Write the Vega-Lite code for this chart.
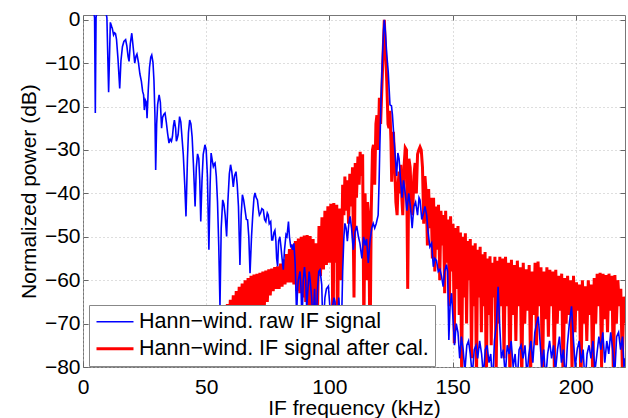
{
"$schema": "https://vega.github.io/schema/vega-lite/v6.json",
"width": 542, "height": 352,
"autosize": {"type": "none"},
"padding": {"left": 83, "top": 15, "right": 3, "bottom": 51},
"background": "white",
"config": {
 "font": "Liberation Sans",
 "view": {"stroke": "#777", "strokeWidth": 1},
 "axis": {"labelFont": "Liberation Sans", "titleFont": "Liberation Sans", "labelFontSize": 21, "titleFontSize": 21, "titleFontWeight": "normal", "labelColor": "#000", "titleColor": "#000", "tickColor": "#666", "domain": false, "labelFlush": false, "gridColor": "#bdbdbd", "gridDash": [1, 3], "gridWidth": 1, "tickSize": -5}
},
"datasets": {
"raw": [
{"kHz":0,"dB":6,"signal":"raw"},{"kHz":1.5,"dB":5,"signal":"raw"},{"kHz":3,"dB":4,"signal":"raw"},{"kHz":4.2,"dB":2.5,"signal":"raw"},{"kHz":4.7,"dB":0.5,"signal":"raw"},{"kHz":5.0,"dB":-21.5,"signal":"raw"},{"kHz":5.3,"dB":0.5,"signal":"raw"},{"kHz":6.0,"dB":3,"signal":"raw"},{"kHz":7.5,"dB":4,"signal":"raw"},{"kHz":9.0,"dB":2.5,"signal":"raw"},{"kHz":9.7,"dB":0.5,"signal":"raw"},{"kHz":10.4,"dB":-16.7,"signal":"raw"},{"kHz":11.1,"dB":-0.6,"signal":"raw"},{"kHz":11.6,"dB":-1.5,"signal":"raw"},{"kHz":11.9,"dB":-2.0,"signal":"raw"},{"kHz":12.4,"dB":-3.5,"signal":"raw"},{"kHz":12.8,"dB":-3.0,"signal":"raw"},{"kHz":13.2,"dB":-3.2,"signal":"raw"},{"kHz":13.6,"dB":-4.5,"signal":"raw"},{"kHz":14.2,"dB":-9,"signal":"raw"},{"kHz":14.9,"dB":-15.8,"signal":"raw"},{"kHz":15.4,"dB":-9.5,"signal":"raw"},{"kHz":16.0,"dB":-6.2,"signal":"raw"},{"kHz":16.6,"dB":-5.0,"signal":"raw"},{"kHz":17.3,"dB":-4.6,"signal":"raw"},{"kHz":17.8,"dB":-6,"signal":"raw"},{"kHz":18.3,"dB":-8.5,"signal":"raw"},{"kHz":18.7,"dB":-9.6,"signal":"raw"},{"kHz":19.2,"dB":-5.5,"signal":"raw"},{"kHz":19.8,"dB":-3.1,"signal":"raw"},{"kHz":20.4,"dB":-6.5,"signal":"raw"},{"kHz":21.0,"dB":-10.0,"signal":"raw"},{"kHz":21.5,"dB":-8.4,"signal":"raw"},{"kHz":21.9,"dB":-7.9,"signal":"raw"},{"kHz":22.5,"dB":-9.8,"signal":"raw"},{"kHz":23.1,"dB":-12.5,"signal":"raw"},{"kHz":23.7,"dB":-14.2,"signal":"raw"},{"kHz":24.2,"dB":-16.5,"signal":"raw"},{"kHz":24.6,"dB":-17.3,"signal":"raw"},{"kHz":24.9,"dB":-20.8,"signal":"raw"},{"kHz":25.3,"dB":-18.5,"signal":"raw"},{"kHz":25.7,"dB":-19,"signal":"raw"},{"kHz":26.0,"dB":-22.7,"signal":"raw"},{"kHz":26.5,"dB":-16,"signal":"raw"},{"kHz":27.0,"dB":-11,"signal":"raw"},{"kHz":27.5,"dB":-8.6,"signal":"raw"},{"kHz":27.9,"dB":-8.1,"signal":"raw"},{"kHz":28.4,"dB":-9.8,"signal":"raw"},{"kHz":28.8,"dB":-14,"signal":"raw"},{"kHz":29.2,"dB":-22,"signal":"raw"},{"kHz":29.5,"dB":-34.6,"signal":"raw"},{"kHz":29.9,"dB":-24,"signal":"raw"},{"kHz":30.3,"dB":-19.5,"signal":"raw"},{"kHz":30.9,"dB":-17.3,"signal":"raw"},{"kHz":31.4,"dB":-19,"signal":"raw"},{"kHz":31.9,"dB":-25,"signal":"raw"},{"kHz":32.3,"dB":-22.5,"signal":"raw"},{"kHz":32.8,"dB":-21.8,"signal":"raw"},{"kHz":33.3,"dB":-21.5,"signal":"raw"},{"kHz":33.8,"dB":-23.5,"signal":"raw"},{"kHz":34.3,"dB":-26,"signal":"raw"},{"kHz":34.9,"dB":-28.4,"signal":"raw"},{"kHz":35.4,"dB":-27.5,"signal":"raw"},{"kHz":35.9,"dB":-28,"signal":"raw"},{"kHz":36.3,"dB":-26.9,"signal":"raw"},{"kHz":36.7,"dB":-24.5,"signal":"raw"},{"kHz":37.1,"dB":-23.1,"signal":"raw"},{"kHz":37.6,"dB":-25,"signal":"raw"},{"kHz":37.9,"dB":-28.0,"signal":"raw"},{"kHz":38.2,"dB":-27.5,"signal":"raw"},{"kHz":38.6,"dB":-26.5,"signal":"raw"},{"kHz":39.2,"dB":-22.3,"signal":"raw"},{"kHz":39.7,"dB":-23.5,"signal":"raw"},{"kHz":40.3,"dB":-28,"signal":"raw"},{"kHz":40.7,"dB":-31,"signal":"raw"},{"kHz":41.3,"dB":-38,"signal":"raw"},{"kHz":41.8,"dB":-45.3,"signal":"raw"},{"kHz":42.4,"dB":-32,"signal":"raw"},{"kHz":42.8,"dB":-26,"signal":"raw"},{"kHz":43.3,"dB":-23.1,"signal":"raw"},{"kHz":43.8,"dB":-24,"signal":"raw"},{"kHz":44.3,"dB":-27,"signal":"raw"},{"kHz":44.8,"dB":-33,"signal":"raw"},{"kHz":45.5,"dB":-43,"signal":"raw"},{"kHz":46.0,"dB":-34,"signal":"raw"},{"kHz":46.5,"dB":-30.9,"signal":"raw"},{"kHz":47.0,"dB":-32,"signal":"raw"},{"kHz":47.4,"dB":-37,"signal":"raw"},{"kHz":47.8,"dB":-46.5,"signal":"raw"},{"kHz":48.3,"dB":-37,"signal":"raw"},{"kHz":48.8,"dB":-31,"signal":"raw"},{"kHz":49.5,"dB":-28.8,"signal":"raw"},{"kHz":50.0,"dB":-30,"signal":"raw"},{"kHz":50.5,"dB":-36,"signal":"raw"},{"kHz":51.1,"dB":-53,"signal":"raw"},{"kHz":51.6,"dB":-38,"signal":"raw"},{"kHz":52.0,"dB":-30.7,"signal":"raw"},{"kHz":52.5,"dB":-32.5,"signal":"raw"},{"kHz":52.9,"dB":-33.8,"signal":"raw"},{"kHz":53.3,"dB":-33.2,"signal":"raw"},{"kHz":53.6,"dB":-33,"signal":"raw"},{"kHz":54.1,"dB":-36,"signal":"raw"},{"kHz":54.6,"dB":-42,"signal":"raw"},{"kHz":55.1,"dB":-52,"signal":"raw"},{"kHz":55.6,"dB":-66,"signal":"raw"},{"kHz":56.1,"dB":-48,"signal":"raw"},{"kHz":56.7,"dB":-41.5,"signal":"raw"},{"kHz":57.2,"dB":-42.5,"signal":"raw"},{"kHz":57.7,"dB":-45,"signal":"raw"},{"kHz":58.3,"dB":-49.9,"signal":"raw"},{"kHz":58.8,"dB":-42,"signal":"raw"},{"kHz":59.4,"dB":-35.5,"signal":"raw"},{"kHz":59.9,"dB":-33.4,"signal":"raw"},{"kHz":60.4,"dB":-35,"signal":"raw"},{"kHz":61.0,"dB":-38.5,"signal":"raw"},{"kHz":61.5,"dB":-36,"signal":"raw"},{"kHz":62.1,"dB":-35,"signal":"raw"},{"kHz":62.6,"dB":-38,"signal":"raw"},{"kHz":63.1,"dB":-43,"signal":"raw"},{"kHz":63.7,"dB":-56.5,"signal":"raw"},{"kHz":64.2,"dB":-45,"signal":"raw"},{"kHz":64.7,"dB":-40.3,"signal":"raw"},{"kHz":65.2,"dB":-41.5,"signal":"raw"},{"kHz":65.7,"dB":-43.5,"signal":"raw"},{"kHz":66.3,"dB":-46,"signal":"raw"},{"kHz":66.8,"dB":-46.1,"signal":"raw"},{"kHz":67.3,"dB":-50,"signal":"raw"},{"kHz":67.8,"dB":-58.4,"signal":"raw"},{"kHz":68.4,"dB":-50,"signal":"raw"},{"kHz":68.9,"dB":-45,"signal":"raw"},{"kHz":69.4,"dB":-41,"signal":"raw"},{"kHz":69.8,"dB":-39.9,"signal":"raw"},{"kHz":70.3,"dB":-41,"signal":"raw"},{"kHz":70.8,"dB":-41.5,"signal":"raw"},{"kHz":71.3,"dB":-44,"signal":"raw"},{"kHz":71.6,"dB":-45,"signal":"raw"},{"kHz":72.1,"dB":-44.5,"signal":"raw"},{"kHz":72.6,"dB":-43.5,"signal":"raw"},{"kHz":73.2,"dB":-43.8,"signal":"raw"},{"kHz":73.7,"dB":-46,"signal":"raw"},{"kHz":74.2,"dB":-46.5,"signal":"raw"},{"kHz":74.8,"dB":-44.5,"signal":"raw"},{"kHz":75.2,"dB":-45,"signal":"raw"},{"kHz":75.6,"dB":-47,"signal":"raw"},{"kHz":76.2,"dB":-46.5,"signal":"raw"},{"kHz":76.6,"dB":-50.7,"signal":"raw"},{"kHz":77.0,"dB":-50.7,"signal":"raw"},{"kHz":77.5,"dB":-49,"signal":"raw"},{"kHz":77.9,"dB":-48.5,"signal":"raw"},{"kHz":78.3,"dB":-51,"signal":"raw"},{"kHz":78.6,"dB":-55,"signal":"raw"},{"kHz":79.0,"dB":-56.8,"signal":"raw"},{"kHz":79.4,"dB":-51,"signal":"raw"},{"kHz":79.9,"dB":-50,"signal":"raw"},{"kHz":80.3,"dB":-52,"signal":"raw"},{"kHz":80.8,"dB":-55,"signal":"raw"},{"kHz":81.3,"dB":-57.6,"signal":"raw"},{"kHz":81.8,"dB":-53,"signal":"raw"},{"kHz":82.4,"dB":-49.5,"signal":"raw"},{"kHz":82.8,"dB":-49.9,"signal":"raw"},{"kHz":83.4,"dB":-46.5,"signal":"raw"},{"kHz":83.8,"dB":-50,"signal":"raw"},{"kHz":84.3,"dB":-52.2,"signal":"raw"},{"kHz":84.7,"dB":-52,"signal":"raw"},{"kHz":85.1,"dB":-53,"signal":"raw"},{"kHz":85.6,"dB":-51.5,"signal":"raw"},{"kHz":86.1,"dB":-56,"signal":"raw"},{"kHz":86.7,"dB":-68,"signal":"raw"},{"kHz":87.1,"dB":-62,"signal":"raw"},{"kHz":87.4,"dB":-60,"signal":"raw"},{"kHz":88.1,"dB":-58,"signal":"raw"},{"kHz":88.5,"dB":-62,"signal":"raw"},{"kHz":88.9,"dB":-70,"signal":"raw"},{"kHz":89.4,"dB":-60,"signal":"raw"},{"kHz":89.9,"dB":-57,"signal":"raw"},{"kHz":90.4,"dB":-60,"signal":"raw"},{"kHz":90.8,"dB":-66.6,"signal":"raw"},{"kHz":91.3,"dB":-62,"signal":"raw"},{"kHz":91.8,"dB":-58,"signal":"raw"},{"kHz":92.2,"dB":-60,"signal":"raw"},{"kHz":92.8,"dB":-64,"signal":"raw"},{"kHz":93.4,"dB":-70,"signal":"raw"},{"kHz":94.0,"dB":-62,"signal":"raw"},{"kHz":94.6,"dB":-72,"signal":"raw"},{"kHz":95.2,"dB":-62,"signal":"raw"},{"kHz":95.7,"dB":-58,"signal":"raw"},{"kHz":96.2,"dB":-57.6,"signal":"raw"},{"kHz":96.9,"dB":-61,"signal":"raw"},{"kHz":97.4,"dB":-72,"signal":"raw"},{"kHz":98.2,"dB":-64,"signal":"raw"},{"kHz":98.8,"dB":-62,"signal":"raw"},{"kHz":99.6,"dB":-61.4,"signal":"raw"},{"kHz":100.2,"dB":-66,"signal":"raw"},{"kHz":100.8,"dB":-82,"signal":"raw"},{"kHz":101.3,"dB":-66,"signal":"raw"},{"kHz":101.9,"dB":-64,"signal":"raw"},{"kHz":102.3,"dB":-65,"signal":"raw"},{"kHz":102.8,"dB":-70,"signal":"raw"},{"kHz":103.3,"dB":-75,"signal":"raw"},{"kHz":103.8,"dB":-64,"signal":"raw"},{"kHz":104.3,"dB":-68,"signal":"raw"},{"kHz":104.8,"dB":-74,"signal":"raw"},{"kHz":105.4,"dB":-58,"signal":"raw"},{"kHz":105.9,"dB":-50,"signal":"raw"},{"kHz":106.3,"dB":-46.9,"signal":"raw"},{"kHz":106.8,"dB":-48,"signal":"raw"},{"kHz":107.3,"dB":-51,"signal":"raw"},{"kHz":107.9,"dB":-47,"signal":"raw"},{"kHz":108.4,"dB":-45.3,"signal":"raw"},{"kHz":109.0,"dB":-48,"signal":"raw"},{"kHz":109.7,"dB":-53,"signal":"raw"},{"kHz":110.4,"dB":-49,"signal":"raw"},{"kHz":111.1,"dB":-47.5,"signal":"raw"},{"kHz":111.8,"dB":-50,"signal":"raw"},{"kHz":112.4,"dB":-51.5,"signal":"raw"},{"kHz":113.2,"dB":-55,"signal":"raw"},{"kHz":113.9,"dB":-50,"signal":"raw"},{"kHz":114.6,"dB":-52,"signal":"raw"},{"kHz":115.1,"dB":-50.5,"signal":"raw"},{"kHz":115.8,"dB":-56,"signal":"raw"},{"kHz":116.5,"dB":-51,"signal":"raw"},{"kHz":117.2,"dB":-48,"signal":"raw"},{"kHz":117.8,"dB":-46.9,"signal":"raw"},{"kHz":118.4,"dB":-48,"signal":"raw"},{"kHz":119.0,"dB":-47,"signal":"raw"},{"kHz":119.8,"dB":-45,"signal":"raw"},{"kHz":120.2,"dB":-37,"signal":"raw"},{"kHz":120.5,"dB":-28.8,"signal":"raw"},{"kHz":121.0,"dB":-18,"signal":"raw"},{"kHz":121.6,"dB":-8,"signal":"raw"},{"kHz":122.0,"dB":-2.5,"signal":"raw"},{"kHz":122.3,"dB":0,"signal":"raw"},{"kHz":122.7,"dB":-2.5,"signal":"raw"},{"kHz":123.3,"dB":-8,"signal":"raw"},{"kHz":123.9,"dB":-12,"signal":"raw"},{"kHz":124.6,"dB":-19.6,"signal":"raw"},{"kHz":125.2,"dB":-19.8,"signal":"raw"},{"kHz":125.6,"dB":-21.9,"signal":"raw"},{"kHz":126.2,"dB":-27,"signal":"raw"},{"kHz":126.7,"dB":-31.1,"signal":"raw"},{"kHz":127.3,"dB":-36,"signal":"raw"},{"kHz":127.8,"dB":-30.7,"signal":"raw"},{"kHz":128.3,"dB":-32,"signal":"raw"},{"kHz":128.9,"dB":-37,"signal":"raw"},{"kHz":129.5,"dB":-41,"signal":"raw"},{"kHz":130.1,"dB":-37,"signal":"raw"},{"kHz":130.8,"dB":-40,"signal":"raw"},{"kHz":131.5,"dB":-44,"signal":"raw"},{"kHz":132.2,"dB":-40,"signal":"raw"},{"kHz":132.9,"dB":-43,"signal":"raw"},{"kHz":133.6,"dB":-48,"signal":"raw"},{"kHz":134.3,"dB":-43,"signal":"raw"},{"kHz":135.0,"dB":-42,"signal":"raw"},{"kHz":135.8,"dB":-45,"signal":"raw"},{"kHz":136.4,"dB":-41,"signal":"raw"},{"kHz":136.8,"dB":-41.5,"signal":"raw"},{"kHz":137.5,"dB":-46,"signal":"raw"},{"kHz":138.2,"dB":-44.6,"signal":"raw"},{"kHz":138.8,"dB":-43,"signal":"raw"},{"kHz":139.5,"dB":-45,"signal":"raw"},{"kHz":140.1,"dB":-49,"signal":"raw"},{"kHz":140.8,"dB":-52.3,"signal":"raw"},{"kHz":141.5,"dB":-51.5,"signal":"raw"},{"kHz":142.2,"dB":-56.9,"signal":"raw"},{"kHz":142.8,"dB":-55,"signal":"raw"},{"kHz":143.5,"dB":-55.5,"signal":"raw"},{"kHz":144.2,"dB":-58,"signal":"raw"},{"kHz":144.9,"dB":-57.5,"signal":"raw"},{"kHz":145.5,"dB":-59,"signal":"raw"},{"kHz":146.2,"dB":-61.5,"signal":"raw"},{"kHz":146.8,"dB":-58,"signal":"raw"},{"kHz":147.5,"dB":-56.4,"signal":"raw"},{"kHz":148.0,"dB":-58,"signal":"raw"},{"kHz":148.5,"dB":-73.8,"signal":"raw"},{"kHz":149.0,"dB":-66,"signal":"raw"},{"kHz":149.6,"dB":-63,"signal":"raw"},{"kHz":150.2,"dB":-69,"signal":"raw"},{"kHz":150.8,"dB":-75,"signal":"raw"},{"kHz":151.5,"dB":-70,"signal":"raw"},{"kHz":152.2,"dB":-72,"signal":"raw"},{"kHz":152.9,"dB":-78,"signal":"raw"},{"kHz":153.6,"dB":-73,"signal":"raw"},{"kHz":154.3,"dB":-76,"signal":"raw"},{"kHz":155.0,"dB":-81,"signal":"raw"},{"kHz":155.8,"dB":-75,"signal":"raw"},{"kHz":156.5,"dB":-74,"signal":"raw"},{"kHz":157.2,"dB":-77,"signal":"raw"},{"kHz":158.0,"dB":-82,"signal":"raw"},{"kHz":158.8,"dB":-76,"signal":"raw"},{"kHz":159.5,"dB":-75,"signal":"raw"},{"kHz":160.2,"dB":-78,"signal":"raw"},{"kHz":161.0,"dB":-74,"signal":"raw"},{"kHz":161.8,"dB":-77,"signal":"raw"},{"kHz":162.5,"dB":-82,"signal":"raw"},{"kHz":163.3,"dB":-76,"signal":"raw"},{"kHz":164.0,"dB":-75,"signal":"raw"},{"kHz":164.8,"dB":-79,"signal":"raw"},{"kHz":165.5,"dB":-77,"signal":"raw"},{"kHz":166.3,"dB":-84,"signal":"raw"},{"kHz":167.0,"dB":-74,"signal":"raw"},{"kHz":167.8,"dB":-70,"signal":"raw"},{"kHz":168.5,"dB":-61.5,"signal":"raw"},{"kHz":169.1,"dB":-70,"signal":"raw"},{"kHz":169.8,"dB":-78,"signal":"raw"},{"kHz":170.6,"dB":-76,"signal":"raw"},{"kHz":171.4,"dB":-82,"signal":"raw"},{"kHz":172.2,"dB":-75,"signal":"raw"},{"kHz":173.0,"dB":-77,"signal":"raw"},{"kHz":173.8,"dB":-74,"signal":"raw"},{"kHz":174.6,"dB":-80,"signal":"raw"},{"kHz":175.4,"dB":-77,"signal":"raw"},{"kHz":176.2,"dB":-84,"signal":"raw"},{"kHz":177.0,"dB":-76,"signal":"raw"},{"kHz":177.8,"dB":-75,"signal":"raw"},{"kHz":178.6,"dB":-78,"signal":"raw"},{"kHz":179.4,"dB":-75,"signal":"raw"},{"kHz":180.2,"dB":-82,"signal":"raw"},{"kHz":181.0,"dB":-77,"signal":"raw"},{"kHz":181.8,"dB":-74,"signal":"raw"},{"kHz":182.6,"dB":-79,"signal":"raw"},{"kHz":183.4,"dB":-72,"signal":"raw"},{"kHz":184.1,"dB":-70,"signal":"raw"},{"kHz":184.8,"dB":-68.4,"signal":"raw"},{"kHz":185.5,"dB":-74,"signal":"raw"},{"kHz":186.2,"dB":-80,"signal":"raw"},{"kHz":187.0,"dB":-76,"signal":"raw"},{"kHz":187.8,"dB":-83,"signal":"raw"},{"kHz":188.6,"dB":-77,"signal":"raw"},{"kHz":189.4,"dB":-74,"signal":"raw"},{"kHz":190.2,"dB":-78,"signal":"raw"},{"kHz":191.0,"dB":-75,"signal":"raw"},{"kHz":191.8,"dB":-81,"signal":"raw"},{"kHz":192.6,"dB":-76,"signal":"raw"},{"kHz":193.4,"dB":-73,"signal":"raw"},{"kHz":194.2,"dB":-79,"signal":"raw"},{"kHz":195.0,"dB":-76,"signal":"raw"},{"kHz":195.8,"dB":-83,"signal":"raw"},{"kHz":196.6,"dB":-75,"signal":"raw"},{"kHz":197.4,"dB":-70,"signal":"raw"},{"kHz":198.3,"dB":-66,"signal":"raw"},{"kHz":199.0,"dB":-73,"signal":"raw"},{"kHz":199.8,"dB":-80,"signal":"raw"},{"kHz":200.6,"dB":-76,"signal":"raw"},{"kHz":201.4,"dB":-74,"signal":"raw"},{"kHz":202.2,"dB":-79,"signal":"raw"},{"kHz":203.0,"dB":-76,"signal":"raw"},{"kHz":203.8,"dB":-84,"signal":"raw"},{"kHz":204.6,"dB":-77,"signal":"raw"},{"kHz":205.4,"dB":-75,"signal":"raw"},{"kHz":206.2,"dB":-78,"signal":"raw"},{"kHz":207.0,"dB":-74,"signal":"raw"},{"kHz":207.8,"dB":-81,"signal":"raw"},{"kHz":208.6,"dB":-77,"signal":"raw"},{"kHz":209.4,"dB":-73,"signal":"raw"},{"kHz":210.2,"dB":-76,"signal":"raw"},{"kHz":211.0,"dB":-72,"signal":"raw"},{"kHz":211.8,"dB":-79,"signal":"raw"},{"kHz":212.6,"dB":-74,"signal":"raw"},{"kHz":213.4,"dB":-77,"signal":"raw"},{"kHz":214.2,"dB":-72,"signal":"raw"},{"kHz":215.0,"dB":-76,"signal":"raw"},{"kHz":215.8,"dB":-82,"signal":"raw"},{"kHz":216.6,"dB":-73,"signal":"raw"},{"kHz":217.4,"dB":-72,"signal":"raw"},{"kHz":218.2,"dB":-76,"signal":"raw"},{"kHz":219.0,"dB":-73,"signal":"raw"},{"kHz":219.6,"dB":-80,"signal":"raw"},{"kHz":220.0,"dB":-78,"signal":"raw"}
],
"cal": [
{"kHz":22.0,"dB":-86,"signal":"cal"},{"kHz":23.0,"dB":-82,"signal":"cal"},{"kHz":23.8,"dB":-79.5,"signal":"cal"},{"kHz":24.4,"dB":-84,"signal":"cal"},{"kHz":25.0,"dB":-79,"signal":"cal"},{"kHz":25.6,"dB":-83,"signal":"cal"},{"kHz":26.2,"dB":-78.5,"signal":"cal"},{"kHz":26.8,"dB":-83,"signal":"cal"},{"kHz":27.4,"dB":-78,"signal":"cal"},{"kHz":28.0,"dB":-82,"signal":"cal"},{"kHz":28.6,"dB":-77.8,"signal":"cal"},{"kHz":29.2,"dB":-82,"signal":"cal"},{"kHz":29.8,"dB":-77.5,"signal":"cal"},{"kHz":30.4,"dB":-81.5,"signal":"cal"},{"kHz":31.0,"dB":-77.8,"signal":"cal"},{"kHz":31.6,"dB":-82,"signal":"cal"},{"kHz":32.2,"dB":-78.5,"signal":"cal"},{"kHz":32.8,"dB":-83,"signal":"cal"},{"kHz":33.4,"dB":-79,"signal":"cal"},{"kHz":34.0,"dB":-82,"signal":"cal"},{"kHz":34.6,"dB":-77,"signal":"cal"},{"kHz":35.2,"dB":-81,"signal":"cal"},{"kHz":35.8,"dB":-76,"signal":"cal"},{"kHz":36.4,"dB":-80.5,"signal":"cal"},{"kHz":37.0,"dB":-75.5,"signal":"cal"},{"kHz":37.6,"dB":-80,"signal":"cal"},{"kHz":38.2,"dB":-75,"signal":"cal"},{"kHz":38.8,"dB":-80,"signal":"cal"},{"kHz":39.4,"dB":-74.5,"signal":"cal"},{"kHz":40.0,"dB":-79.5,"signal":"cal"},{"kHz":40.6,"dB":-74,"signal":"cal"},{"kHz":41.2,"dB":-79.5,"signal":"cal"},{"kHz":41.8,"dB":-73.5,"signal":"cal"},{"kHz":42.4,"dB":-79,"signal":"cal"},{"kHz":43.0,"dB":-73,"signal":"cal"},{"kHz":43.6,"dB":-79.5,"signal":"cal"},{"kHz":44.2,"dB":-72.5,"signal":"cal"},{"kHz":44.8,"dB":-80,"signal":"cal"},{"kHz":45.4,"dB":-72,"signal":"cal"},{"kHz":46.0,"dB":-78,"signal":"cal"},{"kHz":46.6,"dB":-71.5,"signal":"cal"},{"kHz":47.2,"dB":-77.5,"signal":"cal"},{"kHz":47.8,"dB":-71,"signal":"cal"},{"kHz":48.4,"dB":-77,"signal":"cal"},{"kHz":49.0,"dB":-70.5,"signal":"cal"},{"kHz":49.6,"dB":-76.5,"signal":"cal"},{"kHz":50.2,"dB":-70,"signal":"cal"},{"kHz":50.8,"dB":-76,"signal":"cal"},{"kHz":51.4,"dB":-69.5,"signal":"cal"},{"kHz":52.0,"dB":-75.5,"signal":"cal"},{"kHz":52.6,"dB":-69,"signal":"cal"},{"kHz":53.2,"dB":-75,"signal":"cal"},{"kHz":53.8,"dB":-68.3,"signal":"cal"},{"kHz":54.4,"dB":-74.5,"signal":"cal"},{"kHz":55.0,"dB":-67.5,"signal":"cal"},{"kHz":55.6,"dB":-74,"signal":"cal"},{"kHz":56.2,"dB":-67,"signal":"cal"},{"kHz":56.8,"dB":-73.5,"signal":"cal"},{"kHz":57.4,"dB":-66.3,"signal":"cal"},{"kHz":58.0,"dB":-73,"signal":"cal"},{"kHz":58.6,"dB":-65.5,"signal":"cal"},{"kHz":59.2,"dB":-72.5,"signal":"cal"},{"kHz":59.8,"dB":-64.5,"signal":"cal"},{"kHz":60.4,"dB":-72,"signal":"cal"},{"kHz":61.0,"dB":-63.5,"signal":"cal"},{"kHz":61.6,"dB":-71.5,"signal":"cal"},{"kHz":62.2,"dB":-62.5,"signal":"cal"},{"kHz":62.8,"dB":-71,"signal":"cal"},{"kHz":63.4,"dB":-61.5,"signal":"cal"},{"kHz":64.0,"dB":-70.5,"signal":"cal"},{"kHz":64.6,"dB":-60.8,"signal":"cal"},{"kHz":65.2,"dB":-70,"signal":"cal"},{"kHz":65.8,"dB":-60,"signal":"cal"},{"kHz":66.4,"dB":-69.5,"signal":"cal"},{"kHz":67.0,"dB":-59.5,"signal":"cal"},{"kHz":67.6,"dB":-69,"signal":"cal"},{"kHz":68.2,"dB":-59,"signal":"cal"},{"kHz":68.8,"dB":-68.7,"signal":"cal"},{"kHz":69.4,"dB":-58.7,"signal":"cal"},{"kHz":70.0,"dB":-68.5,"signal":"cal"},{"kHz":70.6,"dB":-58.5,"signal":"cal"},{"kHz":71.2,"dB":-68,"signal":"cal"},{"kHz":71.8,"dB":-58.3,"signal":"cal"},{"kHz":72.4,"dB":-67,"signal":"cal"},{"kHz":73.0,"dB":-58,"signal":"cal"},{"kHz":73.6,"dB":-66,"signal":"cal"},{"kHz":74.2,"dB":-57.8,"signal":"cal"},{"kHz":74.8,"dB":-65,"signal":"cal"},{"kHz":75.4,"dB":-57.5,"signal":"cal"},{"kHz":76.0,"dB":-63.5,"signal":"cal"},{"kHz":76.6,"dB":-57.3,"signal":"cal"},{"kHz":77.2,"dB":-62.5,"signal":"cal"},{"kHz":77.8,"dB":-57,"signal":"cal"},{"kHz":78.4,"dB":-62,"signal":"cal"},{"kHz":79.0,"dB":-56.8,"signal":"cal"},{"kHz":79.6,"dB":-62,"signal":"cal"},{"kHz":80.2,"dB":-56.2,"signal":"cal"},{"kHz":80.8,"dB":-61.5,"signal":"cal"},{"kHz":81.4,"dB":-55.2,"signal":"cal"},{"kHz":82.0,"dB":-61,"signal":"cal"},{"kHz":82.6,"dB":-54,"signal":"cal"},{"kHz":83.2,"dB":-60.5,"signal":"cal"},{"kHz":83.8,"dB":-52.8,"signal":"cal"},{"kHz":84.4,"dB":-60.5,"signal":"cal"},{"kHz":85.0,"dB":-51.8,"signal":"cal"},{"kHz":85.6,"dB":-61,"signal":"cal"},{"kHz":86.2,"dB":-51,"signal":"cal"},{"kHz":86.8,"dB":-62.5,"signal":"cal"},{"kHz":87.4,"dB":-50.4,"signal":"cal"},{"kHz":88.0,"dB":-63,"signal":"cal"},{"kHz":88.6,"dB":-50,"signal":"cal"},{"kHz":89.2,"dB":-64,"signal":"cal"},{"kHz":89.8,"dB":-49.7,"signal":"cal"},{"kHz":90.4,"dB":-65,"signal":"cal"},{"kHz":91.0,"dB":-49.6,"signal":"cal"},{"kHz":91.6,"dB":-66,"signal":"cal"},{"kHz":92.2,"dB":-49.8,"signal":"cal"},{"kHz":92.8,"dB":-66,"signal":"cal"},{"kHz":93.1,"dB":-84,"signal":"cal"},{"kHz":93.4,"dB":-50.5,"signal":"cal"},{"kHz":94.0,"dB":-66,"signal":"cal"},{"kHz":94.6,"dB":-51.5,"signal":"cal"},{"kHz":95.2,"dB":-67,"signal":"cal"},{"kHz":95.8,"dB":-47.5,"signal":"cal"},{"kHz":96.4,"dB":-59,"signal":"cal"},{"kHz":97.0,"dB":-45.5,"signal":"cal"},{"kHz":97.6,"dB":-57.5,"signal":"cal"},{"kHz":98.2,"dB":-44,"signal":"cal"},{"kHz":98.8,"dB":-56.5,"signal":"cal"},{"kHz":99.4,"dB":-43,"signal":"cal"},{"kHz":100.0,"dB":-56,"signal":"cal"},{"kHz":100.6,"dB":-42.4,"signal":"cal"},{"kHz":101.2,"dB":-55.5,"signal":"cal"},{"kHz":101.5,"dB":-84,"signal":"cal"},{"kHz":101.8,"dB":-42.2,"signal":"cal"},{"kHz":102.4,"dB":-56,"signal":"cal"},{"kHz":103.0,"dB":-42.6,"signal":"cal"},{"kHz":103.3,"dB":-78,"signal":"cal"},{"kHz":103.6,"dB":-57,"signal":"cal"},{"kHz":104.2,"dB":-43.5,"signal":"cal"},{"kHz":104.8,"dB":-60,"signal":"cal"},{"kHz":105.4,"dB":-38,"signal":"cal"},{"kHz":105.9,"dB":-45,"signal":"cal"},{"kHz":106.3,"dB":-36.1,"signal":"cal"},{"kHz":106.8,"dB":-44,"signal":"cal"},{"kHz":107.3,"dB":-37,"signal":"cal"},{"kHz":107.8,"dB":-47,"signal":"cal"},{"kHz":108.3,"dB":-35.5,"signal":"cal"},{"kHz":108.9,"dB":-43,"signal":"cal"},{"kHz":109.4,"dB":-34,"signal":"cal"},{"kHz":110.0,"dB":-64,"signal":"cal"},{"kHz":110.5,"dB":-33,"signal":"cal"},{"kHz":111.0,"dB":-41,"signal":"cal"},{"kHz":111.6,"dB":-31.5,"signal":"cal"},{"kHz":112.1,"dB":-38,"signal":"cal"},{"kHz":112.5,"dB":-30.4,"signal":"cal"},{"kHz":113.0,"dB":-36,"signal":"cal"},{"kHz":113.5,"dB":-31,"signal":"cal"},{"kHz":114.0,"dB":-72,"signal":"cal"},{"kHz":114.5,"dB":-40,"signal":"cal"},{"kHz":115.0,"dB":-60,"signal":"cal"},{"kHz":115.5,"dB":-42,"signal":"cal"},{"kHz":116.0,"dB":-46,"signal":"cal"},{"kHz":116.5,"dB":-78,"signal":"cal"},{"kHz":117.0,"dB":-44,"signal":"cal"},{"kHz":117.5,"dB":-30,"signal":"cal"},{"kHz":117.9,"dB":-28.8,"signal":"cal"},{"kHz":118.4,"dB":-38,"signal":"cal"},{"kHz":118.9,"dB":-24,"signal":"cal"},{"kHz":119.3,"dB":-22,"signal":"cal"},{"kHz":119.8,"dB":-30,"signal":"cal"},{"kHz":120.3,"dB":-18,"signal":"cal"},{"kHz":120.8,"dB":-24,"signal":"cal"},{"kHz":121.3,"dB":-16,"signal":"cal"},{"kHz":121.8,"dB":-8,"signal":"cal"},{"kHz":122.3,"dB":0,"signal":"cal"},{"kHz":122.8,"dB":-7,"signal":"cal"},{"kHz":123.3,"dB":-14.2,"signal":"cal"},{"kHz":123.8,"dB":-24,"signal":"cal"},{"kHz":124.2,"dB":-25,"signal":"cal"},{"kHz":124.6,"dB":-21,"signal":"cal"},{"kHz":125.0,"dB":-28,"signal":"cal"},{"kHz":125.3,"dB":-37.3,"signal":"cal"},{"kHz":125.7,"dB":-30,"signal":"cal"},{"kHz":126.0,"dB":-25.8,"signal":"cal"},{"kHz":126.5,"dB":-33,"signal":"cal"},{"kHz":127.0,"dB":-42,"signal":"cal"},{"kHz":127.5,"dB":-45,"signal":"cal"},{"kHz":127.9,"dB":-38,"signal":"cal"},{"kHz":128.3,"dB":-35,"signal":"cal"},{"kHz":128.7,"dB":-40,"signal":"cal"},{"kHz":129.0,"dB":-33.4,"signal":"cal"},{"kHz":129.4,"dB":-41,"signal":"cal"},{"kHz":129.8,"dB":-45,"signal":"cal"},{"kHz":130.3,"dB":-34,"signal":"cal"},{"kHz":130.8,"dB":-29.5,"signal":"cal"},{"kHz":131.3,"dB":-30,"signal":"cal"},{"kHz":131.8,"dB":-62,"signal":"cal"},{"kHz":132.3,"dB":-32,"signal":"cal"},{"kHz":132.8,"dB":-34,"signal":"cal"},{"kHz":133.3,"dB":-42,"signal":"cal"},{"kHz":133.8,"dB":-45,"signal":"cal"},{"kHz":134.3,"dB":-36,"signal":"cal"},{"kHz":134.8,"dB":-33,"signal":"cal"},{"kHz":135.3,"dB":-40,"signal":"cal"},{"kHz":135.8,"dB":-31,"signal":"cal"},{"kHz":136.3,"dB":-30,"signal":"cal"},{"kHz":136.8,"dB":-29.3,"signal":"cal"},{"kHz":137.3,"dB":-30,"signal":"cal"},{"kHz":137.8,"dB":-34,"signal":"cal"},{"kHz":138.3,"dB":-47,"signal":"cal"},{"kHz":138.8,"dB":-36,"signal":"cal"},{"kHz":139.3,"dB":-40,"signal":"cal"},{"kHz":139.8,"dB":-52,"signal":"cal"},{"kHz":140.3,"dB":-39,"signal":"cal"},{"kHz":140.8,"dB":-48,"signal":"cal"},{"kHz":141.3,"dB":-41,"signal":"cal"},{"kHz":141.8,"dB":-55,"signal":"cal"},{"kHz":142.3,"dB":-41,"signal":"cal"},{"kHz":142.8,"dB":-58,"signal":"cal"},{"kHz":143.3,"dB":-43,"signal":"cal"},{"kHz":143.8,"dB":-53,"signal":"cal"},{"kHz":144.3,"dB":-42.6,"signal":"cal"},{"kHz":144.8,"dB":-60,"signal":"cal"},{"kHz":145.3,"dB":-44,"signal":"cal"},{"kHz":145.8,"dB":-52,"signal":"cal"},{"kHz":146.3,"dB":-45,"signal":"cal"},{"kHz":146.8,"dB":-63,"signal":"cal"},{"kHz":147.2,"dB":-44,"signal":"cal"},{"kHz":147.7,"dB":-56,"signal":"cal"},{"kHz":148.2,"dB":-46,"signal":"cal"},{"kHz":148.7,"dB":-66,"signal":"cal"},{"kHz":149.2,"dB":-45.3,"signal":"cal"},{"kHz":149.7,"dB":-58,"signal":"cal"},{"kHz":150.2,"dB":-47,"signal":"cal"},{"kHz":150.7,"dB":-74.5,"signal":"cal"},{"kHz":151.2,"dB":-48,"signal":"cal"},{"kHz":151.7,"dB":-62,"signal":"cal"},{"kHz":152.2,"dB":-47.5,"signal":"cal"},{"kHz":152.7,"dB":-68,"signal":"cal"},{"kHz":153.2,"dB":-49,"signal":"cal"},{"kHz":153.7,"dB":-82,"signal":"cal"},{"kHz":154.2,"dB":-50,"signal":"cal"},{"kHz":154.7,"dB":-64,"signal":"cal"},{"kHz":155.2,"dB":-49.2,"signal":"cal"},{"kHz":155.7,"dB":-70,"signal":"cal"},{"kHz":156.2,"dB":-51,"signal":"cal"},{"kHz":156.7,"dB":-60,"signal":"cal"},{"kHz":157.2,"dB":-50.5,"signal":"cal"},{"kHz":157.7,"dB":-78,"signal":"cal"},{"kHz":158.2,"dB":-52,"signal":"cal"},{"kHz":158.7,"dB":-66,"signal":"cal"},{"kHz":159.2,"dB":-51.5,"signal":"cal"},{"kHz":159.7,"dB":-84,"signal":"cal"},{"kHz":160.2,"dB":-53,"signal":"cal"},{"kHz":160.7,"dB":-64,"signal":"cal"},{"kHz":161.2,"dB":-52.3,"signal":"cal"},{"kHz":161.7,"dB":-72,"signal":"cal"},{"kHz":162.2,"dB":-54,"signal":"cal"},{"kHz":162.7,"dB":-66,"signal":"cal"},{"kHz":163.2,"dB":-53.5,"signal":"cal"},{"kHz":163.7,"dB":-86,"signal":"cal"},{"kHz":164.2,"dB":-55,"signal":"cal"},{"kHz":164.7,"dB":-68,"signal":"cal"},{"kHz":165.2,"dB":-54.5,"signal":"cal"},{"kHz":165.7,"dB":-75,"signal":"cal"},{"kHz":166.2,"dB":-56,"signal":"cal"},{"kHz":166.7,"dB":-64,"signal":"cal"},{"kHz":167.2,"dB":-54.6,"signal":"cal"},{"kHz":167.7,"dB":-82,"signal":"cal"},{"kHz":168.2,"dB":-55.5,"signal":"cal"},{"kHz":168.7,"dB":-70,"signal":"cal"},{"kHz":169.2,"dB":-54.6,"signal":"cal"},{"kHz":169.7,"dB":-66,"signal":"cal"},{"kHz":170.3,"dB":-55,"signal":"cal"},{"kHz":170.9,"dB":-78,"signal":"cal"},{"kHz":171.5,"dB":-54.6,"signal":"cal"},{"kHz":172.1,"dB":-66,"signal":"cal"},{"kHz":172.7,"dB":-56,"signal":"cal"},{"kHz":173.3,"dB":-85,"signal":"cal"},{"kHz":173.9,"dB":-55.3,"signal":"cal"},{"kHz":174.5,"dB":-68,"signal":"cal"},{"kHz":175.1,"dB":-56.5,"signal":"cal"},{"kHz":175.7,"dB":-74,"signal":"cal"},{"kHz":176.3,"dB":-55.5,"signal":"cal"},{"kHz":176.9,"dB":-66,"signal":"cal"},{"kHz":177.5,"dB":-57,"signal":"cal"},{"kHz":178.1,"dB":-84,"signal":"cal"},{"kHz":178.7,"dB":-56,"signal":"cal"},{"kHz":179.3,"dB":-70,"signal":"cal"},{"kHz":179.9,"dB":-57.5,"signal":"cal"},{"kHz":180.5,"dB":-67,"signal":"cal"},{"kHz":181.1,"dB":-56.5,"signal":"cal"},{"kHz":181.7,"dB":-82,"signal":"cal"},{"kHz":182.3,"dB":-58,"signal":"cal"},{"kHz":182.9,"dB":-68,"signal":"cal"},{"kHz":183.5,"dB":-56,"signal":"cal"},{"kHz":184.1,"dB":-75,"signal":"cal"},{"kHz":184.7,"dB":-55.7,"signal":"cal"},{"kHz":185.3,"dB":-66,"signal":"cal"},{"kHz":185.9,"dB":-57,"signal":"cal"},{"kHz":186.5,"dB":-86,"signal":"cal"},{"kHz":187.1,"dB":-58,"signal":"cal"},{"kHz":187.7,"dB":-69,"signal":"cal"},{"kHz":188.3,"dB":-57,"signal":"cal"},{"kHz":188.9,"dB":-73,"signal":"cal"},{"kHz":189.5,"dB":-57.6,"signal":"cal"},{"kHz":190.1,"dB":-66,"signal":"cal"},{"kHz":190.7,"dB":-58,"signal":"cal"},{"kHz":191.3,"dB":-80,"signal":"cal"},{"kHz":191.9,"dB":-57.6,"signal":"cal"},{"kHz":192.5,"dB":-70,"signal":"cal"},{"kHz":193.1,"dB":-59,"signal":"cal"},{"kHz":193.7,"dB":-67,"signal":"cal"},{"kHz":194.3,"dB":-58.5,"signal":"cal"},{"kHz":194.9,"dB":-85,"signal":"cal"},{"kHz":195.5,"dB":-59.5,"signal":"cal"},{"kHz":196.1,"dB":-70,"signal":"cal"},{"kHz":196.7,"dB":-59,"signal":"cal"},{"kHz":197.3,"dB":-68,"signal":"cal"},{"kHz":197.9,"dB":-60,"signal":"cal"},{"kHz":198.5,"dB":-81,"signal":"cal"},{"kHz":199.1,"dB":-59,"signal":"cal"},{"kHz":199.7,"dB":-72,"signal":"cal"},{"kHz":200.3,"dB":-60.5,"signal":"cal"},{"kHz":200.9,"dB":-67,"signal":"cal"},{"kHz":201.5,"dB":-61,"signal":"cal"},{"kHz":202.1,"dB":-86,"signal":"cal"},{"kHz":202.7,"dB":-60,"signal":"cal"},{"kHz":203.3,"dB":-70,"signal":"cal"},{"kHz":203.9,"dB":-61.4,"signal":"cal"},{"kHz":204.5,"dB":-74,"signal":"cal"},{"kHz":205.1,"dB":-60,"signal":"cal"},{"kHz":205.7,"dB":-68,"signal":"cal"},{"kHz":206.3,"dB":-61,"signal":"cal"},{"kHz":206.9,"dB":-84,"signal":"cal"},{"kHz":207.5,"dB":-59.5,"signal":"cal"},{"kHz":208.1,"dB":-70,"signal":"cal"},{"kHz":208.7,"dB":-58.5,"signal":"cal"},{"kHz":209.3,"dB":-66,"signal":"cal"},{"kHz":209.9,"dB":-58.3,"signal":"cal"},{"kHz":210.5,"dB":-80,"signal":"cal"},{"kHz":211.1,"dB":-58.5,"signal":"cal"},{"kHz":211.7,"dB":-69,"signal":"cal"},{"kHz":212.3,"dB":-58.8,"signal":"cal"},{"kHz":212.9,"dB":-72,"signal":"cal"},{"kHz":213.5,"dB":-58.5,"signal":"cal"},{"kHz":214.1,"dB":-67,"signal":"cal"},{"kHz":214.7,"dB":-59,"signal":"cal"},{"kHz":215.3,"dB":-83,"signal":"cal"},{"kHz":215.9,"dB":-58.8,"signal":"cal"},{"kHz":216.5,"dB":-70,"signal":"cal"},{"kHz":217.1,"dB":-60,"signal":"cal"},{"kHz":217.7,"dB":-66,"signal":"cal"},{"kHz":218.3,"dB":-62,"signal":"cal"},{"kHz":218.9,"dB":-80,"signal":"cal"},{"kHz":219.5,"dB":-63.8,"signal":"cal"},{"kHz":220.0,"dB":-70,"signal":"cal"}
]
},
"resolve": {"axis": {"x": "independent", "y": "independent"}},
"layer": [
 {
  "data": {"name": "cal"},
  "mark": {"type": "line", "clip": true, "strokeWidth": 3},
  "encoding": {
   "x": {"field": "kHz", "type": "quantitative", "scale": {"domain": [0, 220], "nice": false, "zero": false},
         "axis": {"orient": "top", "values": [0, 50, 100, 150, 200], "labels": false, "grid": false, "title": null}},
   "y": {"field": "dB", "type": "quantitative", "scale": {"domain": [-80, 1.1], "nice": false, "zero": false},
         "axis": {"orient": "right", "values": [-80, -70, -60, -50, -40, -30, -20, -10, 0], "labels": false, "grid": false, "title": null}},
   "color": {"field": "signal", "type": "nominal",
             "scale": {"domain": ["raw", "cal"], "range": ["#0000ff", "#ff0000"]},
             "legend": {"orient": "none", "legendX": 6, "legendY": 290, "title": null, "direction": "vertical", "fillColor": "white", "strokeColor": "#888", "padding": 6, "labelFontSize": 21.5, "labelFont": "Liberation Sans", "labelColor": "#000", "labelLimit": 500, "rowPadding": 4, "symbolType": "M-1,0H3", "symbolSize": 342, "labelOffset": 22.5, "cornerRadius": 0,
                        "labelExpr": "datum.value == 'raw' ? 'Hann−wind. raw IF signal' : 'Hann−wind. IF signal after cal.'",
                        "encode": {"symbols": {"update": {"strokeWidth": {"signal": "datum.value == 'cal' ? 3 : 1.5"}}}}}}
  }
 },
 {
  "data": {"name": "raw"},
  "mark": {"type": "line", "clip": true, "strokeWidth": 1.6},
  "encoding": {
   "x": {"field": "kHz", "type": "quantitative",
         "axis": {"orient": "bottom", "values": [0, 50, 100, 150, 200], "grid": true, "title": "IF frequency (kHz)", "labelPadding": 31, "labelBaseline": "alphabetic", "titleY": 47.5, "titleBaseline": "alphabetic"}},
   "y": {"field": "dB", "type": "quantitative",
         "axis": {"orient": "left", "values": [-80, -70, -60, -50, -40, -30, -20, -10, 0], "grid": true, "title": "Normalized power (dB)", "labelPadding": 8, "titleX": -48, "titleBaseline": "alphabetic"}},
   "color": {"field": "signal", "type": "nominal"}
  }
 }
]
}
